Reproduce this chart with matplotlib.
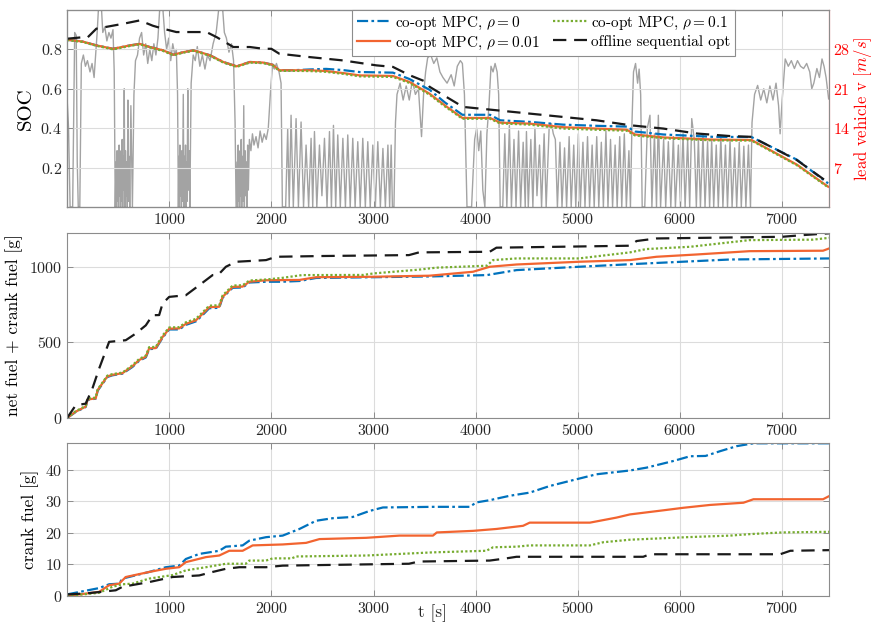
import matplotlib
matplotlib.use("Agg")
import matplotlib.pyplot as plt
import numpy as np

plt.rcParams['font.family'] = ['cmr10', 'DejaVu Serif']
plt.rcParams['mathtext.fontset'] = 'cm'
plt.rcParams['axes.formatter.use_mathtext'] = True
plt.rcParams['axes.unicode_minus'] = False

# lead vehicle speed [m/s]
t_speed = [0, 15, 30, 55, 75, 90, 100, 110, 125, 140, 160, 180, 200, 225, 245, 265, 280, 295, 310, 335,
           350, 370, 390, 410, 430, 450, 462, 472,
           480, 485, 490, 495, 500, 505, 510, 515, 520, 525, 530, 535, 540, 545, 550, 555, 560, 566, 572,
           578, 584, 590, 596, 602, 608, 614, 625, 640,
           655, 670, 690, 710, 730, 750, 770, 790, 810, 830, 850, 870, 890, 910, 935, 955, 975, 995, 1015,
           1035, 1055, 1070, 1082, 1090,
           1095, 1100, 1105, 1110, 1115, 1120, 1125, 1130, 1138, 1144, 1150, 1155, 1160, 1165, 1170, 1175,
           1182, 1188, 1195, 1202,
           1215, 1235, 1255, 1275, 1300, 1325, 1350, 1375, 1400, 1430, 1460, 1490, 1520, 1540, 1560, 1585,
           1610, 1630, 1645, 1655,
           1665, 1670, 1675, 1680, 1685, 1690, 1695, 1700, 1705, 1710, 1716, 1722, 1730, 1736, 1742, 1748,
           1755, 1760, 1768, 1775,
           1785, 1800, 1815, 1830, 1850, 1870, 1890, 1910, 1930, 1950, 1970, 1990, 2010, 2030, 2050, 2075,
           2095, 2108,
           2140, 2160, 2175, 2193, 2215, 2242, 2265, 2291, 2315, 2340, 2365, 2389, 2405, 2422, 2445, 2471,
           2495, 2520, 2545, 2569, 2588, 2608, 2630, 2650, 2675, 2700, 2725, 2748, 2772, 2797, 2820, 2846,
           2870, 2895, 2920, 2944, 2968, 2993, 3018, 3042, 3067, 3092, 3116, 3141, 3158, 3173, 3185,
           3200, 3215, 3230, 3260, 3290, 3320, 3350, 3380, 3410, 3440, 3470, 3490, 3510, 3530, 3560, 3590,
           3620, 3650, 3680, 3720, 3760, 3790, 3820, 3850, 3870, 3890, 3915,
           3960, 3990, 4010, 4030, 4050, 4070, 4090, 4110, 4130, 4150, 4170, 4190, 4210, 4225, 4240,
           4265, 4285, 4305, 4330, 4350, 4375, 4395, 4420, 4440, 4465, 4485, 4497, 4515, 4540, 4560, 4580,
           4600, 4625, 4645, 4670, 4690, 4720, 4742, 4760, 4780, 4800, 4825, 4845, 4870, 4890, 4915, 4935,
           4960, 4980, 5005, 5025, 5050, 5070, 5095, 5115, 5140, 5160, 5185, 5205, 5230, 5250, 5275, 5295,
           5320, 5340, 5365, 5385, 5410, 5430, 5455, 5475, 5500, 5515,
           5530, 5545, 5565, 5585, 5600, 5615, 5630,
           5655, 5680, 5706, 5725, 5750, 5770, 5788, 5810, 5840, 5860, 5886, 5910, 5935, 5955, 5984, 6005,
           6030, 6050, 6075, 6095, 6115, 6140, 6160, 6180, 6200, 6225, 6245, 6270, 6290, 6310, 6330, 6355,
           6375, 6400, 6420, 6445, 6465, 6490, 6510, 6535, 6555, 6580, 6600, 6625, 6645, 6670, 6690,
           6705, 6730, 6760, 6790, 6820, 6850, 6880, 6910, 6940, 6965, 6980, 7000, 7030, 7060, 7090, 7120,
           7150, 7180, 7210, 7240, 7270, 7290, 7310, 7340, 7365, 7390, 7410, 7430, 7455]
v_speed = [19.5, 14, 0, 0, 31, 30.5, 8, 0, 0, 25.5, 27, 25, 26, 24, 25.5, 23, 27, 31, 36, 36,
           31, 32, 29.5, 31, 30, 31.5, 24, 0,
           8, 0, 10, 1, 9, 0, 11, 2, 8, 0, 10, 1, 12, 0, 9, 3, 21, 0, 10,
           2, 8, 0, 19, 1, 9, 0, 18, 0,
           20, 26, 27, 30, 31, 27, 29, 25.5, 28, 26, 29, 27, 30, 36, 36, 31, 28, 30, 26,
           29, 27, 28, 20, 0,
           9, 0, 11, 2, 8, 0, 10, 1, 20, 0, 9, 2, 11, 0, 8, 1,
           21, 3, 10, 0,
           22, 27, 26, 28.5, 25, 27, 24.5, 27, 26, 29, 31, 36, 36, 31, 30, 27.5,
           29, 26, 15, 0,
           8, 0, 11, 1, 9, 0, 10, 2, 12, 0, 9, 1, 18, 0, 10, 2,
           8, 0, 11, 3,
           12, 10, 13, 11, 12.5, 10.5, 13.5, 11.5, 13, 12, 14, 20, 25, 24.5, 25.5, 24,
           22, 0,
           0, 13.9, 0, 16.3, 0, 15.7, 0, 15.1, 0, 11.0, 0, 12.2, 0, 13.4, 0, 11.0,
           2, 12.2, 0, 13.4, 0, 14.5, 0, 12.8, 0, 12.2, 0, 12.8, 0, 12.2, 0, 11.6,
           0, 12.2, 0, 11.6, 0, 11.0, 0, 11.6, 0, 10.4, 0, 11.0, 0, 11.0, 0,
           0, 15, 20, 22, 19, 21.5, 19, 22.5, 20, 21, 12.5, 20, 24, 26.5, 27, 25.5,
           26.5, 24, 23, 22, 23.5, 21.5, 25, 26, 25.5, 20, 0,
           0, 12, 14, 10, 13.5, 3, 0, 13, 18, 25, 24, 25.5, 24, 20, 0,
           0, 13, 0, 14.5, 0, 12, 0, 13.5, 0, 11.5, 0, 13.4, 0, 12, 0, 14,
           2, 11, 0, 13, 0, 14.5, 14.8, 13, 12, 0, 11.5, 0, 10.5, 0, 12.5, 0,
           11, 0, 13, 0, 11.5, 0, 12.5, 0, 11, 0, 12.5, 0, 11.5, 0, 13.5, 0,
           12, 0, 11, 0, 12.5, 0, 13, 0, 10, 0,
           15, 24, 25.5, 22, 24.5, 20, 0,
           0, 14, 16.3, 0, 13, 0, 16.3, 0, 12, 0, 11.6, 0, 12.5, 0, 11, 0,
           13, 0, 12, 0, 15.7, 12, 0, 12.2, 0, 13, 0, 11.6, 0, 12, 0, 11,
           0, 12.5, 0, 11, 0, 12, 0, 10.5, 0, 11.5, 0, 10.8, 0, 11, 0,
           15, 20, 21.6, 19, 21, 18.5, 21.5, 19, 22, 18, 13, 19, 26.3, 25, 26, 24.6,
           26, 25, 24.6, 25.5, 24, 21, 22, 24.6, 23, 26.3, 25, 23, 19.2]

# SOC
t_soc_mpc = [0, 150, 290, 450, 614, 712, 810, 941, 1040, 1140, 1235, 1300, 1400, 1530, 1660, 1790, 1920,
             2013, 2078, 2209, 2373, 2536, 2700, 2863, 3190, 3350, 3549, 3700, 3870, 4140, 4240, 4530,
             4856, 5183, 5480, 5560, 5837, 6327, 6700, 7144, 7450]
soc_rho0 = [0.849, 0.840, 0.820, 0.803, 0.820, 0.828, 0.812, 0.795, 0.773, 0.786, 0.795, 0.786, 0.770,
            0.736, 0.714, 0.736, 0.733, 0.722, 0.694, 0.694, 0.698, 0.701, 0.695, 0.685, 0.682, 0.650,
            0.595, 0.530, 0.468, 0.468, 0.440, 0.432, 0.418, 0.412, 0.408, 0.383, 0.368, 0.356, 0.355,
            0.240, 0.120]
soc_rho001 = [0.849, 0.840, 0.820, 0.803, 0.820, 0.828, 0.812, 0.795, 0.773, 0.786, 0.795, 0.786, 0.770,
              0.736, 0.714, 0.736, 0.733, 0.722, 0.694, 0.694, 0.694, 0.690, 0.680, 0.668, 0.665, 0.635,
              0.575, 0.515, 0.452, 0.452, 0.428, 0.423, 0.405, 0.398, 0.392, 0.368, 0.353, 0.342, 0.340,
              0.215, 0.103]
soc_rho01 = [0.847, 0.838, 0.818, 0.800, 0.817, 0.826, 0.810, 0.792, 0.770, 0.783, 0.793, 0.783, 0.767,
             0.733, 0.711, 0.733, 0.730, 0.719, 0.691, 0.691, 0.690, 0.686, 0.676, 0.663, 0.660, 0.630,
             0.570, 0.510, 0.448, 0.448, 0.424, 0.418, 0.398, 0.392, 0.387, 0.363, 0.349, 0.338, 0.337,
             0.212, 0.100]
t_soc_off = [0, 160, 200, 287, 550, 712, 840, 941, 1070, 1365, 1465, 1628, 1790, 1922, 2000, 2078, 2373,
             2700, 3026, 3190, 3353, 3516, 3549, 3876, 4203, 4529, 4856, 5183, 5510, 5837, 6163, 6490,
             6700, 7144, 7440]
soc_off = [0.854, 0.862, 0.860, 0.905, 0.930, 0.947, 0.920, 0.905, 0.888, 0.888, 0.862, 0.812, 0.812,
           0.803, 0.803, 0.778, 0.761, 0.744, 0.719, 0.711, 0.669, 0.635, 0.610, 0.508, 0.491, 0.474,
           0.457, 0.440, 0.415, 0.398, 0.373, 0.360, 0.356, 0.238, 0.128]

# net fuel + crank fuel [g]
t_fuel_rho0 = [0, 85, 183, 200, 281, 300, 314, 395, 444, 542, 640, 706, 771, 804, 869, 935, 1000, 1098,
               1163, 1261, 1327, 1392, 1490, 1523, 1621, 1719, 1784, 1948, 2100, 2275, 2438, 3000, 3549,
               4110, 4400, 5010, 5670, 6490, 7460]
fuel_rho0 = [0, 40, 73, 120, 128, 180, 194, 271, 282, 293, 337, 378, 400, 455, 458, 530, 585, 585, 615,
             638, 680, 725, 728, 795, 860, 862, 895, 900, 900, 905, 925, 930, 935, 944, 977, 999, 1021,
             1047, 1054]
t_fuel_rho001 = [0, 85, 183, 200, 281, 300, 314, 395, 444, 542, 640, 706, 771, 804, 869, 935, 1000, 1098,
                 1163, 1261, 1327, 1392, 1490, 1523, 1621, 1719, 1784, 1948, 2275, 2438, 3000, 3549, 3974,
                 4137, 4400, 5010, 5510, 5770, 6160, 6680, 7400, 7460]
fuel_rho001 = [0, 42, 75, 122, 130, 185, 198, 275, 285, 296, 342, 383, 405, 460, 462, 535, 590, 592, 622,
               645, 688, 732, 735, 800, 866, 868, 900, 910, 912, 930, 933, 940, 966, 999, 1014, 1032,
               1043, 1065, 1080, 1102, 1105, 1120]
t_fuel_rho01 = [0, 85, 183, 200, 281, 300, 314, 395, 444, 542, 640, 706, 771, 804, 869, 935, 1000, 1098,
                1163, 1261, 1327, 1392, 1490, 1523, 1621, 1719, 1784, 1948, 2100, 2300, 2900, 3000, 3445,
                3614, 4110, 4170, 4400, 5010, 5510, 5670, 6100, 6680, 7300, 7460]
fuel_rho01 = [0, 45, 80, 128, 135, 190, 203, 280, 290, 300, 348, 390, 412, 468, 470, 545, 598, 600, 632,
              655, 698, 742, 745, 810, 875, 877, 908, 915, 925, 944, 945, 955, 980, 993, 1006, 1043, 1054,
              1054, 1094, 1116, 1131, 1175, 1178, 1190]
t_fuel_off = [0, 85, 183, 248, 314, 412, 575, 673, 771, 837, 902, 935, 1000, 1163, 1294, 1425, 1480, 1555,
              1654, 1948, 2046, 2500, 3347, 3445, 4137, 4203, 5510, 5575, 5770, 7000, 7200, 7460]
fuel_off = [0, 84, 95, 194, 326, 503, 514, 558, 612, 679, 680, 756, 800, 811, 877, 944, 946, 999, 1032,
            1043, 1065, 1070, 1076, 1094, 1098, 1125, 1138, 1169, 1186, 1197, 1208, 1220]

# crank fuel [g]
t_crank_rho0 = [0, 314, 412, 510, 542, 804, 967, 1098, 1163, 1294, 1490, 1555, 1719, 1784, 1948, 2111,
                2275, 2438, 2601, 2797, 2961, 3092, 3582, 3941, 4007, 4137, 4333, 4529, 4726, 4922, 5183,
                5510, 5673, 5935, 6098, 6250, 6392, 6556, 6719, 7460]
crank_rho0 = [0.5, 2.5, 3.7, 3.9, 5.5, 7.6, 9.1, 9.6, 11.7, 13.3, 14.3, 15.6, 16.0, 17.5, 18.6, 19.1,
              21.2, 23.8, 24.6, 25.0, 26.9, 28.0, 28.2, 28.2, 29.6, 30.3, 31.7, 32.7, 34.8, 36.4, 38.5,
              39.7, 40.6, 42.7, 44.2, 44.3, 45.8, 47.4, 48.3, 48.3]
t_crank_rho001 = [0, 314, 412, 510, 575, 804, 967, 1098, 1163, 1360, 1490, 1588, 1719, 1817, 2111, 2340,
                  2471, 2928, 3255, 3582, 3620, 3974, 4203, 4464, 4529, 5118, 5379, 5510, 5837, 6033, 6294,
                  6621, 6719, 7400, 7460]
crank_rho001 = [0, 1.3, 3.4, 3.9, 6.0, 7.6, 8.6, 9.1, 10.7, 12.3, 12.8, 14.3, 14.3, 16.0, 16.3, 16.8,
                18.0, 18.4, 19.1, 19.1, 20.1, 20.6, 21.2, 22.2, 23.2, 23.2, 24.8, 25.8, 27.1, 27.9, 28.8,
                29.5, 30.6, 30.6, 31.6]
t_crank_rho01 = [0, 314, 444, 542, 640, 804, 1032, 1163, 1360, 1555, 1750, 1784, 1948, 2013, 2200, 2242,
                 2928, 3255, 3582, 4104, 4170, 4400, 4529, 5118, 5249, 5510, 6065, 6490, 6700, 7000, 7460]
crank_rho01 = [0, 1.0, 2.9, 3.7, 3.9, 5.5, 6.6, 8.1, 9.1, 10.2, 10.2, 11.2, 11.2, 11.9, 11.9, 12.5, 12.8,
               13.3, 13.8, 14.3, 15.4, 15.6, 16.0, 16.0, 17.0, 17.8, 18.6, 19.1, 19.6, 20.1, 20.3]
t_crank_off = [0, 183, 477, 542, 804, 1032, 1294, 1425, 1555, 1686, 1948, 2111, 3347, 3445, 4137, 4300,
               4400, 5640, 5706, 6980, 7080, 7460]
crank_off = [0.5, 0.8, 1.8, 2.9, 4.4, 6.0, 6.5, 7.6, 8.6, 9.1, 9.1, 9.6, 10.2, 10.9, 11.2, 11.9, 12.4,
             12.4, 13.2, 13.2, 14.3, 14.5]

labels = [r'co-opt MPC, $\rho = 0$', r'co-opt MPC, $\rho = 0.01$',
          r'co-opt MPC, $\rho = 0.1$', 'offline sequential opt']

c_blue = '#0072BD'
c_orange = '#F26430'
c_green = '#77AC30'
edge = '#8c8c8c'
txt = '#262626'

sty_blue = dict(color=c_blue, lw=1.6, dashes=(5, 1.5, 1.2, 1.5))
sty_orange = dict(color=c_orange, lw=1.6, ls='-')
sty_green = dict(color=c_green, lw=1.6, dashes=(1, 1))
sty_black = dict(color='#1a1a1a', lw=1.6, dashes=(6, 3.5))

fig = plt.figure(figsize=(8.75, 6.24), dpi=100)
ax1 = fig.add_axes([0.0766, 0.6683, 0.871, 0.3157])
ax2 = fig.add_axes([0.0766, 0.3301, 0.871, 0.2965])
ax3 = fig.add_axes([0.0766, 0.0449, 0.871, 0.2452])


def style(ax):
    ax.set_xlim(0, 7460)
    ax.set_xticks([1000, 2000, 3000, 4000, 5000, 6000, 7000])
    ax.grid(True, color='#dcdcdc', lw=0.8)
    ax.set_axisbelow(True)
    ax.tick_params(direction='in', top=True, right=True, length=4, width=0.7,
                   color=edge, labelcolor=txt, labelsize=11.5)
    for s in ax.spines.values():
        s.set_color(edge)
        s.set_linewidth(0.8)


# top panel: SOC + lead vehicle speed
ax1r = ax1.twinx()
ax1r.plot(t_speed, v_speed, color='#a3a3a3', lw=1.0)
ax1r.set_ylim(0, 35)
ax1r.set_yticks([7, 14, 21, 28])
ax1r.tick_params(direction='in', length=4, width=0.7, colors='red', labelsize=11.5, pad=3)
ax1r.spines['right'].set_color('red')
ax1r.set_ylabel(r'lead vehicle v $[m/s]$', color='red', fontsize=12, labelpad=1)
ax1.set_zorder(ax1r.get_zorder() + 1)
ax1.patch.set_visible(False)

l1, = ax1.plot(t_soc_mpc, soc_rho0, **sty_blue)
l2, = ax1.plot(t_soc_mpc, soc_rho001, **sty_orange)
l3, = ax1.plot(t_soc_mpc, soc_rho01, **sty_green)
l4, = ax1.plot(t_soc_off, soc_off, **sty_black)
style(ax1)
ax1.tick_params(right=False)
ax1.set_ylim(0, 1)
ax1.set_yticks([0.2, 0.4, 0.6, 0.8])
ax1.set_ylabel('SOC', fontsize=15)
leg = ax1.legend([l1, l2, l3, l4], labels, ncol=2, loc='upper left',
                 bbox_to_anchor=(0.374, 1.0), borderaxespad=0, fontsize=11,
                 handlelength=2.2, handletextpad=0.3, columnspacing=0.9,
                 fancybox=False, framealpha=1, edgecolor=edge, borderpad=0.3,
                 labelspacing=0.2)
leg.get_frame().set_linewidth(0.8)

# middle panel: total fuel
ax2.plot(t_fuel_rho0, fuel_rho0, **sty_blue)
ax2.plot(t_fuel_rho001, fuel_rho001, **sty_orange)
ax2.plot(t_fuel_rho01, fuel_rho01, **sty_green)
ax2.plot(t_fuel_off, fuel_off, **sty_black)
style(ax2)
ax2.set_ylim(0, 1222)
ax2.set_yticks([0, 500, 1000])
ax2.set_ylabel('net fuel + crank fuel [g]', fontsize=12.5)

# bottom panel: crank fuel
ax3.plot(t_crank_rho0, crank_rho0, **sty_blue)
ax3.plot(t_crank_rho001, crank_rho001, **sty_orange)
ax3.plot(t_crank_rho01, crank_rho01, **sty_green)
ax3.plot(t_crank_off, crank_off, **sty_black)
style(ax3)
ax3.set_ylim(0, 48.4)
ax3.set_yticks([0, 10, 20, 30, 40])
ax3.set_ylabel('crank fuel [g]', fontsize=12.5)
ax3.text(0.479, -0.055, 't [s]', transform=ax3.transAxes, ha='center', va='top',
         fontsize=12.5, color=txt)

fig.savefig('out.png', dpi=100)
